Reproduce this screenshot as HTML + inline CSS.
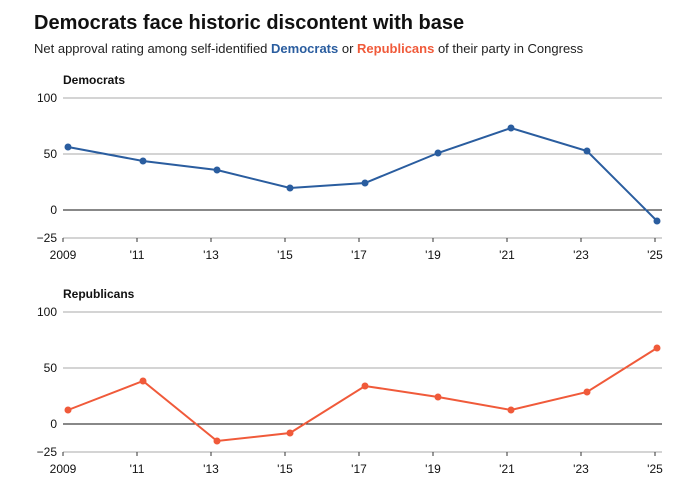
<!DOCTYPE html>
<html><head><style>
body{margin:0;background:#fff;font-family:"Liberation Sans",sans-serif;}
</style></head><body>
<svg width="697" height="492" xmlns="http://www.w3.org/2000/svg" font-family="Liberation Sans, sans-serif">
<text x="34" y="29" font-size="20" font-weight="bold" fill="#111">Democrats face historic discontent with base</text>
<text x="34" y="53" font-size="13" fill="#222">Net approval rating among self-identified <tspan fill="#2a5d9f" font-weight="bold">Democrats</tspan> or <tspan fill="#f05a3a" font-weight="bold">Republicans</tspan> of their party in Congress</text>

<g font-size="12" fill="#111">
<text x="63" y="84" font-weight="bold">Democrats</text>
<line x1="63" x2="662" y1="98" y2="98" stroke="#aaa"/>
<line x1="63" x2="662" y1="154" y2="154" stroke="#aaa"/>
<line x1="63" x2="662" y1="210" y2="210" stroke="#111"/>
<line x1="63" x2="662" y1="238" y2="238" stroke="#aaa"/>
<text x="57" y="102" text-anchor="end">100</text>
<text x="57" y="158" text-anchor="end">50</text>
<text x="57" y="214" text-anchor="end">0</text>
<text x="57" y="242" text-anchor="end">−25</text>
<g stroke="#333"><line x1="63" x2="63" y1="238" y2="242"/><line x1="137" x2="137" y1="238" y2="242"/><line x1="211" x2="211" y1="238" y2="242"/><line x1="285" x2="285" y1="238" y2="242"/><line x1="359" x2="359" y1="238" y2="242"/><line x1="433" x2="433" y1="238" y2="242"/><line x1="507" x2="507" y1="238" y2="242"/><line x1="581" x2="581" y1="238" y2="242"/><line x1="655" x2="655" y1="238" y2="242"/></g>
<g text-anchor="middle"><text x="63" y="259">2009</text><text x="137" y="259">'11</text><text x="211" y="259">'13</text><text x="285" y="259">'15</text><text x="359" y="259">'17</text><text x="433" y="259">'19</text><text x="507" y="259">'21</text><text x="581" y="259">'23</text><text x="655" y="259">'25</text></g>
<polyline fill="none" stroke="#2a5d9f" stroke-width="2" points="68,147 143,161 217,170 290,188 365,183 438,153 511,128 587,151 657,221"/>
<g fill="#2a5d9f"><circle cx="68" cy="147" r="3.5"/><circle cx="143" cy="161" r="3.5"/><circle cx="217" cy="170" r="3.5"/><circle cx="290" cy="188" r="3.5"/><circle cx="365" cy="183" r="3.5"/><circle cx="438" cy="153" r="3.5"/><circle cx="511" cy="128" r="3.5"/><circle cx="587" cy="151" r="3.5"/><circle cx="657" cy="221" r="3.5"/></g>

<text x="63" y="298" font-weight="bold">Republicans</text>
<line x1="63" x2="662" y1="312" y2="312" stroke="#aaa"/>
<line x1="63" x2="662" y1="368" y2="368" stroke="#aaa"/>
<line x1="63" x2="662" y1="424" y2="424" stroke="#111"/>
<line x1="63" x2="662" y1="452" y2="452" stroke="#aaa"/>
<text x="57" y="316" text-anchor="end">100</text>
<text x="57" y="372" text-anchor="end">50</text>
<text x="57" y="428" text-anchor="end">0</text>
<text x="57" y="456" text-anchor="end">−25</text>
<g stroke="#333"><line x1="63" x2="63" y1="452" y2="456"/><line x1="137" x2="137" y1="452" y2="456"/><line x1="211" x2="211" y1="452" y2="456"/><line x1="285" x2="285" y1="452" y2="456"/><line x1="359" x2="359" y1="452" y2="456"/><line x1="433" x2="433" y1="452" y2="456"/><line x1="507" x2="507" y1="452" y2="456"/><line x1="581" x2="581" y1="452" y2="456"/><line x1="655" x2="655" y1="452" y2="456"/></g>
<g text-anchor="middle"><text x="63" y="473">2009</text><text x="137" y="473">'11</text><text x="211" y="473">'13</text><text x="285" y="473">'15</text><text x="359" y="473">'17</text><text x="433" y="473">'19</text><text x="507" y="473">'21</text><text x="581" y="473">'23</text><text x="655" y="473">'25</text></g>
<polyline fill="none" stroke="#f05a3a" stroke-width="2" points="68,410 143,381 217,441 290,433 365,386 438,397 511,410 587,392 657,348"/>
<g fill="#f05a3a"><circle cx="68" cy="410" r="3.5"/><circle cx="143" cy="381" r="3.5"/><circle cx="217" cy="441" r="3.5"/><circle cx="290" cy="433" r="3.5"/><circle cx="365" cy="386" r="3.5"/><circle cx="438" cy="397" r="3.5"/><circle cx="511" cy="410" r="3.5"/><circle cx="587" cy="392" r="3.5"/><circle cx="657" cy="348" r="3.5"/></g>
</g>
</svg>
</body></html>
